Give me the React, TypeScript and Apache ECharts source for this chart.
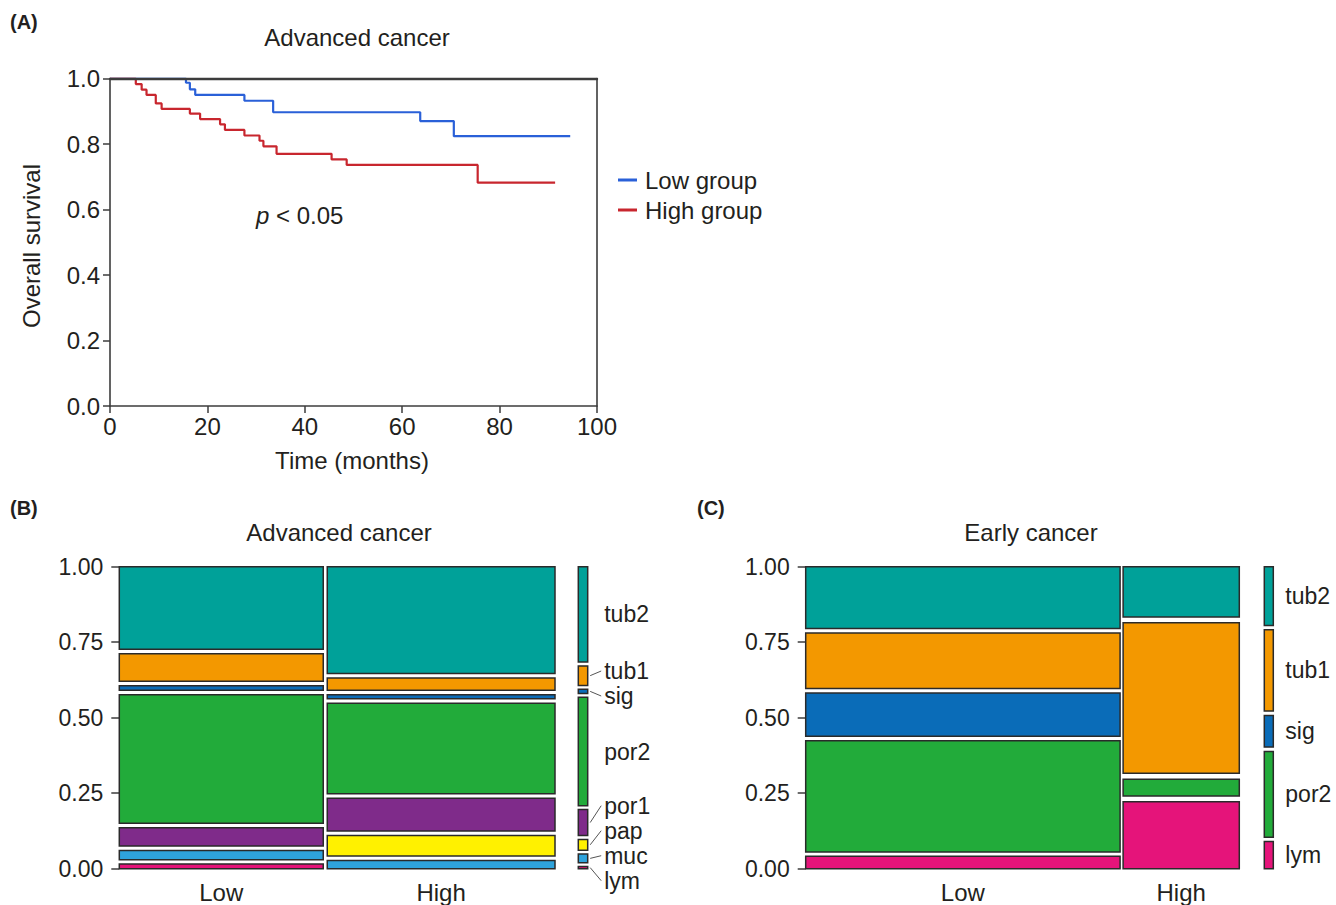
import React, { useEffect, useRef } from "react";
import * as echarts from "echarts";

// ---------- Data ----------
// Panel A: Kaplan-Meier steps (time in months, survival probability)
const kmLowTime = [0, 15.6, 16.4, 17.5, 27.6, 33.5, 63.7, 70.6, 94.5];
const kmLowSurv = [1.0, 0.987, 0.967, 0.95, 0.932, 0.897, 0.87, 0.824, 0.824];
const kmHighTime = [0, 5.3, 6.5, 7.5, 9.4, 10.6, 16.4, 18.5, 22.6, 23.6, 27.6, 30.7, 31.5, 34.2, 45.5, 48.6, 75.5, 91.4];
const kmHighSurv = [1.0, 0.983, 0.966, 0.95, 0.924, 0.907, 0.893, 0.876, 0.86, 0.843, 0.826, 0.81, 0.793, 0.77, 0.753, 0.736, 0.682, 0.682];
const kmSeriesNames = ["Low group", "High group"];

// Panels B and C: counts per histological type
const groups = ["Low", "High"];
const advTypes = ["tub2", "tub1", "sig", "por2", "por1", "pap", "muc", "lym"];
const advLow = [18, 6, 1, 28, 4, 0, 2, 1];
const advHigh = [26, 3, 1, 22, 8, 5, 2, 0];
const earlyTypes = ["tub2", "tub1", "sig", "por2", "lym"];
const earlyLow = [10, 9, 7, 18, 2];
const earlyHigh = [3, 9, 0, 1, 4];

// ---------- Styles ----------
const FONT = '"Liberation Sans", Arial, Helvetica, sans-serif';
const TXT = "#231f20";
const AX = "#3c3c3c";
const typeColors: Record<string, string> = {
  tub2: "#00a199",
  tub1: "#f39800",
  sig: "#0a6cb8",
  por2: "#22ab3a",
  por1: "#7f2b8a",
  pap: "#fff100",
  muc: "#2ea3dc",
  lym: "#e5147a",
};

const sum = (a: number[]) => a.reduce((s, v) => s + v, 0);

// stacked cells from the top (1) down to 0, with gaps between non-zero cells
function stackCells(counts: number[], contentFrac: number) {
  const total = sum(counts);
  const nz = counts.filter((c) => c > 0).length;
  const gap = nz > 1 ? (1 - contentFrac) / (nz - 1) : 0;
  let cursor = 1;
  return counts.map((c) => {
    if (c === 0) return null;
    const h = (c / total) * contentFrac;
    const cell = [cursor - h, cursor];
    cursor -= h + gap;
    return cell;
  });
}

// column spans from left (0) to right (1)
function columnSpans(totals: number[], contentFrac: number) {
  const total = sum(totals);
  const gap = totals.length > 1 ? (1 - contentFrac) / (totals.length - 1) : 0;
  let cursor = 0;
  return totals.map((t) => {
    const w = (t / total) * contentFrac;
    const span = [cursor, cursor + w];
    cursor += w + gap;
    return span;
  });
}

function mosaicSeries(types: string[], cols: number[][], xFrac: number, yFrac: number, axisIndex: number) {
  const spans = columnSpans(cols.map(sum), xFrac);
  const cells = cols.map((c) => stackCells(c, yFrac));
  return {
    type: "custom",
    xAxisIndex: axisIndex,
    yAxisIndex: axisIndex,
    data: spans.map((s) => [(s[0] + s[1]) / 2, 0.5]),
    renderItem: (params: any, api: any) => {
      const j = params.dataIndex;
      const [x0, x1] = spans[j];
      const children: any[] = [];
      cells[j].forEach((cell: any, k: number) => {
        if (!cell) return;
        const p0 = api.coord([x0, cell[1]]);
        const p1 = api.coord([x1, cell[0]]);
        children.push({
          type: "rect",
          shape: { x: p0[0], y: p0[1], width: p1[0] - p0[0], height: p1[1] - p0[1] },
          style: { fill: typeColors[types[k]], stroke: "#2a2a2a", lineWidth: 1.5 },
        });
      });
      const base = api.coord([(x0 + x1) / 2, 0]);
      children.push({
        type: "text",
        x: base[0],
        y: base[1] + 24,
        style: { text: groups[j], fontSize: 24, fontFamily: FONT, fill: TXT, align: "center", verticalAlign: "middle" },
      });
      return { type: "group", children };
    },
  };
}

function legendBarSeries(types: string[], cols: number[][], yFrac: number, axisIndex: number, labelOffset: number) {
  const marginal = types.map((_, k) => sum(cols.map((c) => c[k])));
  const cells = stackCells(marginal, yFrac);
  return {
    type: "custom",
    xAxisIndex: axisIndex,
    yAxisIndex: axisIndex,
    data: [[0.5, 0.5]],
    renderItem: (params: any, api: any) => {
      const children: any[] = [];
      const info: any[] = [];
      cells.forEach((cell: any, k: number) => {
        if (!cell) return;
        const p0 = api.coord([0, cell[1]]);
        const p1 = api.coord([1, cell[0]]);
        children.push({
          type: "rect",
          shape: { x: p0[0], y: p0[1], width: p1[0] - p0[0], height: p1[1] - p0[1] },
          style: { fill: typeColors[types[k]], stroke: "#2a2a2a", lineWidth: 1.5 },
        });
        info.push({ k, center: (p0[1] + p1[1]) / 2, h: p1[1] - p0[1], right: p1[0] });
      });
      const minSep = 25;
      const maxY = api.coord([0, 0])[1] + 12;
      const pos = info.map((d) => d.center);
      for (let it = 0; it < 400; it++) {
        for (let i = 0; i < pos.length - 1; i++) {
          const d = pos[i + 1] - pos[i];
          if (d < minSep) {
            const o = (minSep - d) / 2;
            pos[i] -= o;
            pos[i + 1] += o;
          }
        }
        for (let i = pos.length - 1; i >= 0; i--) {
          if (i === pos.length - 1 && pos[i] > maxY) pos[i] = maxY;
          if (i < pos.length - 1 && pos[i + 1] - pos[i] < minSep && pos[i + 1] >= maxY - 0.01) {
            pos[i] = pos[i + 1] - minSep;
          }
        }
      }
      info.forEach((d, i) => {
        const tx = d.right + labelOffset;
        const leader = Math.abs(pos[i] - d.center) > 3 || d.h < 15;
        if (leader) {
          children.push({
            type: "line",
            shape: { x1: d.right + 2.5, y1: d.center, x2: tx - 3, y2: pos[i] },
            style: { stroke: "#555", lineWidth: 1 },
          });
        }
        children.push({
          type: "text",
          x: tx,
          y: pos[i],
          style: { text: types[d.k], fontSize: 23, fontFamily: FONT, fill: TXT, align: "left", verticalAlign: "middle" },
        });
      });
      return { type: "group", children };
    },
  };
}

const hiddenAxis = (gridIndex: number) => ({
  type: "value",
  gridIndex,
  min: 0,
  max: 1,
  show: false,
});

const mosaicY = (gridIndex: number) => ({
  type: "value",
  gridIndex,
  min: 0,
  max: 1,
  interval: 0.25,
  axisLine: { show: false },
  axisTick: { show: true, length: 8, lineStyle: { color: AX, width: 1.5 } },
  axisLabel: { fontSize: 23, fontFamily: FONT, color: TXT, margin: 16, formatter: (v: number) => v.toFixed(2) },
  splitLine: { show: false },
});

export default function App() {
  const ref = useRef<HTMLDivElement>(null);
  useEffect(() => {
    if (!ref.current) return;
    const chart = echarts.init(ref.current, undefined, { renderer: "svg" });
    const axLine = { show: true, onZero: false, lineStyle: { color: AX, width: 1.6 } };
    const borderLine = { show: true, onZero: false, lineStyle: { color: AX, width: 2.4 } };
    const option: any = {
      animation: false,
      backgroundColor: "#ffffff",
      grid: [
        { left: 110, top: 78.5, width: 487, height: 327.5 },
        { left: 119.3, top: 566.7, width: 435.7, height: 302 },
        { left: 578.3, top: 566.7, width: 9.4, height: 302 },
        { left: 805.7, top: 566.7, width: 433.6, height: 302 },
        { left: 1264.3, top: 566.7, width: 9, height: 302 },
      ],
      // axis indices: 0,1 -> grid 0; 2 -> grid 1; 3 -> grid 2; 4 -> grid 3; 5 -> grid 4
      xAxis: [
        {
          type: "value",
          gridIndex: 0,
          min: 0,
          max: 100,
          interval: 20,
          position: "bottom",
          z: 10,
          axisLine: axLine,
          axisTick: { show: true, inside: false, length: 7, lineStyle: { color: AX, width: 1.5 } },
          axisLabel: { fontSize: 24, fontFamily: FONT, color: TXT, margin: 8 },
          splitLine: { show: false },
        },
        {
          type: "value",
          gridIndex: 0,
          min: 0,
          max: 100,
          position: "top",
          z: 10,
          axisLine: borderLine,
          axisTick: { show: false },
          axisLabel: { show: false },
          splitLine: { show: false },
        },
        hiddenAxis(1),
        hiddenAxis(2),
        hiddenAxis(3),
        hiddenAxis(4),
      ],
      yAxis: [
        {
          type: "value",
          gridIndex: 0,
          min: 0,
          max: 1,
          interval: 0.2,
          position: "left",
          z: 10,
          axisLine: axLine,
          axisTick: { show: true, inside: false, length: 7, lineStyle: { color: AX, width: 1.5 } },
          axisLabel: { fontSize: 24, fontFamily: FONT, color: TXT, margin: 10, formatter: (v: number) => v.toFixed(1) },
          splitLine: { show: false },
        },
        {
          type: "value",
          gridIndex: 0,
          min: 0,
          max: 1,
          position: "right",
          z: 10,
          axisLine: axLine,
          axisTick: { show: false },
          axisLabel: { show: false },
          splitLine: { show: false },
        },
        mosaicY(1),
        hiddenAxis(2),
        mosaicY(3),
        hiddenAxis(4),
      ],
      legend: {
        data: kmSeriesNames,
        orient: "vertical",
        left: 613,
        top: 163,
        icon: "rect",
        itemWidth: 19,
        itemHeight: 3,
        itemGap: 6,
        textStyle: { fontSize: 24, fontFamily: FONT, color: TXT, padding: [0, 0, 0, 3] },
      },
      series: [
        {
          name: kmSeriesNames[0],
          type: "line",
          xAxisIndex: 0,
          yAxisIndex: 0,
          z: 1,
          step: "end",
          showSymbol: false,
          symbol: "none",
          color: "#2a60d8",
          lineStyle: { width: 2.2, color: "#2a60d8" },
          data: kmLowTime.map((t, i) => [t, kmLowSurv[i]]),
        },
        {
          name: kmSeriesNames[1],
          type: "line",
          xAxisIndex: 0,
          yAxisIndex: 0,
          z: 1,
          step: "end",
          showSymbol: false,
          symbol: "none",
          color: "#c8262e",
          lineStyle: { width: 2.2, color: "#c8262e" },
          data: kmHighTime.map((t, i) => [t, kmHighSurv[i]]),
        },
        mosaicSeries(advTypes, [advLow, advHigh], 0.9908, 0.9115, 2),
        legendBarSeries(advTypes, [advLow, advHigh], 0.9115, 3, 16.5),
        mosaicSeries(earlyTypes, [earlyLow, earlyHigh], 0.993, 0.942, 4),
        legendBarSeries(earlyTypes, [earlyLow, earlyHigh], 0.942, 5, 12),
      ],
      graphic: [
        { type: "text", x: 10, y: 22, style: { text: "(A)", fontSize: 20, fontWeight: "bold", fontFamily: FONT, fill: TXT, align: "left", verticalAlign: "middle" } },
        { type: "text", x: 10, y: 508, style: { text: "(B)", fontSize: 20, fontWeight: "bold", fontFamily: FONT, fill: TXT, align: "left", verticalAlign: "middle" } },
        { type: "text", x: 697, y: 508, style: { text: "(C)", fontSize: 20, fontWeight: "bold", fontFamily: FONT, fill: TXT, align: "left", verticalAlign: "middle" } },
        { type: "text", x: 357, y: 37, style: { text: "Advanced cancer", fontSize: 24, fontFamily: FONT, fill: TXT, align: "center", verticalAlign: "middle" } },
        { type: "text", x: 339, y: 532, style: { text: "Advanced cancer", fontSize: 24, fontFamily: FONT, fill: TXT, align: "center", verticalAlign: "middle" } },
        { type: "text", x: 1031, y: 532, style: { text: "Early cancer", fontSize: 24, fontFamily: FONT, fill: TXT, align: "center", verticalAlign: "middle" } },
        { type: "text", x: 352, y: 460, style: { text: "Time (months)", fontSize: 24, fontFamily: FONT, fill: TXT, align: "center", verticalAlign: "middle" } },
        { type: "text", x: 31, y: 246, rotation: Math.PI / 2, style: { text: "Overall survival", fontSize: 24, fontFamily: FONT, fill: TXT, align: "center", verticalAlign: "middle" } },
        {
          type: "text",
          x: 256,
          y: 215,
          style: {
            text: "{i|p} < 0.05",
            fontSize: 24,
            fontFamily: FONT,
            fill: TXT,
            align: "left",
            verticalAlign: "middle",
            rich: { i: { fontStyle: "italic", fontSize: 24, fontFamily: FONT, fill: TXT } },
          },
        },
      ],
    };
    chart.setOption(option);
    return () => chart.dispose();
  }, []);
  return (
    <div
      ref={ref}
      style={{ position: "absolute", left: 0, top: 0, width: 1336, height: 905, background: "#ffffff" }}
    />
  );
}
